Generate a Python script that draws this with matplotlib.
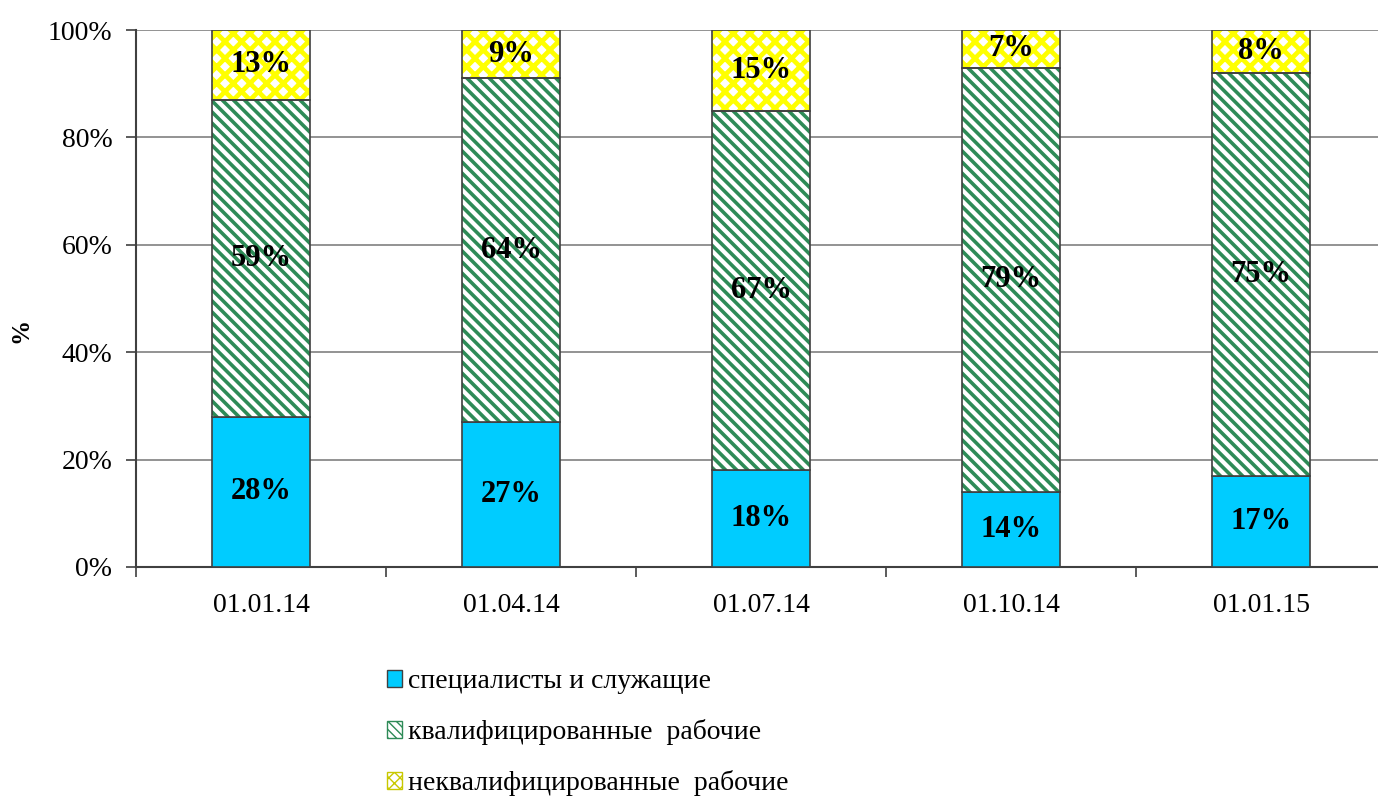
import matplotlib
matplotlib.use("Agg")
import matplotlib.pyplot as plt
import numpy as np
from matplotlib.patches import Patch

plt.rcParams['font.family'] = ['Liberation Serif', 'DejaVu Serif']

# data
dates = ["01.01.14", "01.04.14", "01.07.14", "01.10.14", "01.01.15"]
specialists = [28, 27, 18, 14, 17]
skilled = [59, 64, 67, 79, 75]
unskilled = [13, 9, 15, 7, 8]
series_names = ["специалисты и служащие",
                "квалифицированные  рабочие",
                "неквалифицированные  рабочие"]

blue = "#00CCFF"
green = "#2E8B57"
yellow = "#FFFF00"
edge = "#404040"

fig = plt.figure(figsize=(13.78, 7.96), dpi=100)
ax = fig.add_axes([136 / 1378, 1 - 567 / 796, 1250 / 1378, 537 / 796])

x = np.arange(len(dates))
w = 0.39
s = np.array(specialists)
k = np.array(skilled)
u = np.array(unskilled)

ax.bar(x, s, w, color=blue, edgecolor=edge, linewidth=1.2, zorder=3)
# hatched segments: draw hatch first, then outline
with plt.rc_context({'hatch.linewidth': 2.6}):
    ax.bar(x, k, w, bottom=s, facecolor="white", edgecolor=green,
           hatch="\\\\\\", linewidth=0, zorder=3)
ax.bar(x, k, w, bottom=s, fill=False, edgecolor=edge, linewidth=1.2, zorder=4)
with plt.rc_context({'hatch.linewidth': 3.4}):
    ax.bar(x, u, w, bottom=s + k, facecolor="white", edgecolor=yellow,
           hatch="xx", linewidth=0, zorder=3)
ax.bar(x, u, w, bottom=s + k, fill=False, edgecolor=edge, linewidth=1.2, zorder=4)

for i in range(len(dates)):
    ax.text(x[i], s[i] / 2, f"{s[i]}%", ha="center", va="center",
            fontsize=22, fontweight="bold", zorder=5)
    ax.text(x[i], s[i] + k[i] / 2, f"{k[i]}%", ha="center", va="center",
            fontsize=22, fontweight="bold", zorder=5)
    ax.text(x[i], s[i] + k[i] + u[i] / 2, f"{u[i]}%", ha="center", va="center",
            fontsize=22, fontweight="bold", zorder=5)

ax.set_xlim(-0.5, len(dates) - 0.5)
ax.set_ylim(0, 100)
ax.set_yticks(range(0, 101, 20))
ax.set_yticklabels([f"{v}%" for v in range(0, 101, 20)], fontsize=20)
ax.set_xticks(x)
ax.set_xticklabels(dates, fontsize=20)
ax.set_xticks(np.arange(-0.5, len(dates), 1), minor=True)
ax.tick_params(axis="x", which="major", length=0, pad=19)
ax.tick_params(axis="x", which="minor", length=7, width=1.2, color=edge)
ax.tick_params(axis="y", length=7, width=1.2, color=edge, pad=10)
ax.set_ylabel("%", fontsize=18, fontweight="bold")
ax.yaxis.set_label_coords(-0.083, 0.44)

ax.yaxis.grid(True, color="#808080", linewidth=1.2, zorder=0)
for side in ["top", "right"]:
    ax.spines[side].set_visible(False)
for side in ["left", "bottom"]:
    ax.spines[side].set_color(edge)
    ax.spines[side].set_linewidth(1.5)

handles = [Patch(facecolor=blue, edgecolor=edge),
           Patch(facecolor="white", edgecolor=green, hatch="\\\\\\\\"),
           Patch(facecolor="white", edgecolor="#C8C800", hatch="xxx")]
fig.legend(handles, series_names, loc="upper left",
           bbox_to_anchor=(387 / 1378, 1 - 669 / 796), frameon=False,
           fontsize=20, handlelength=0.55, handleheight=0.55,
           handletextpad=0.2, labelspacing=0.9, borderaxespad=0,
           borderpad=0)

fig.savefig("out.png", dpi=100)
